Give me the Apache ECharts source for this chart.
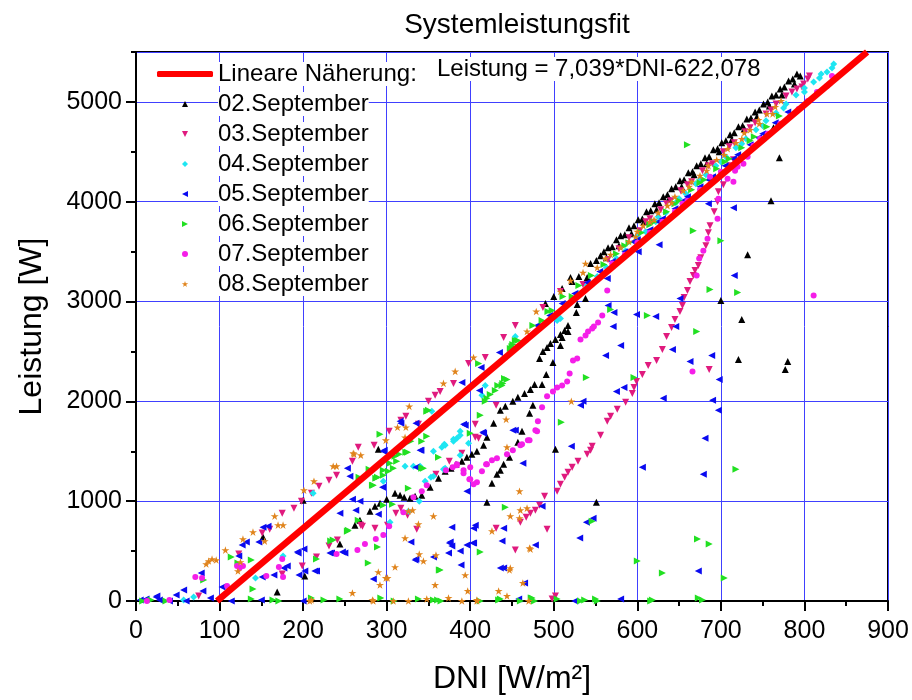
<!DOCTYPE html>
<html><head><meta charset="utf-8">
<script src="https://cdn.jsdelivr.net/npm/echarts@6/dist/echarts.min.js"></script>
<style>html,body{margin:0;padding:0;background:#fff}#c{width:912px;height:700px}</style>
</head><body><div id="c"></div>
<script>
const chartTitle = 'Systemleistungsfit';
const xName = 'DNI [W/m²]';
const yName = 'Leistung [W]';
const fitName = 'Lineare Näherung:';
const fitText = 'Leistung = 7,039*DNI-622,078';
const xTicks = [0, 900, 100];
const yTicks = [0, 5500, 1000];
// fit line endpoints
const fitDNI = [97, 875];
const fitW = [0, 5500];
const seriesNames = ['02.September','03.September','04.September','05.September','06.September','07.September','08.September'];
const seriesColors = ['#000000','#E01A7E','#1EE6F2','#0A0AF0','#22E022','#F51EE8','#E0841C'];

const sep02 = [
[169,90],[152,640],[200,1010],[202,250],[290,1520],
[244,570],[262,760],[268,810],[280,900],[286,950],[292,980],[300,1020],[310,1080],[316,1060],[321,1040],[328,1030],[334,1050],[342,1060],[352,1140],[362,1230],[370,1300],[377,1330],[383,1370],[390,1400],[396,1440],[402,1470],[408,1500],[416,1560],[420,1640],[428,1780],[436,1910],[442,1950],[451,2000],[457,2040],[465,2080],[472,2120],[477,2170],[483,2430],[487,2500],[492,2540],[496,2580],[502,2620],[508,2670],[513,2710],[517,2760],
[420,990],[426,1180],[432,1270],[436,1310],[440,1370],[447,1440],[457,1590],[462,1700],[471,1880],[475,1960],[486,2170],[491,2270],[499,2390],[508,2560],[510,2640],[517,2700],[527,2890],[528,2970],[538,3030],[520,3240],[540,3240],[544,3380],[551,3410],[556,3460],
[490,2980],[500,3050],[510,3130],[522,3200],[530,3250],
[560,3500],[565,3540],[570,3550],[575,3620],[580,3660],[585,3670],[590,3740],[596,3760],[601,3820],[606,3830],[611,3900],[616,3910],[621,3980],[626,3990],[631,4050],[636,4070],[641,4130],[646,4150],[651,4210],[656,4220],[661,4290],[666,4300],[671,4360],[676,4380],[681,4440],[686,4450],[691,4520],[696,4530],[701,4590],[706,4610],[711,4670],[716,4690],[721,4750],[726,4760],[731,4830],[736,4840],[741,4900],[746,4920],[751,4980],[756,5000],[761,5060],[766,5070],[771,5130],[776,5150],[781,5210],[786,5230],[791,5280],[795,5260],
[563,3440],[578,3560],[593,3680],[608,3800],[623,3920],[638,4030],[653,4150],[668,4270],[683,4380],[698,4500],[713,4620],[728,4730],[743,4850],[758,4960],[773,5070],[788,5180],
[732,3470],[700,3010],[725,2820],[721,2420],[780,2400],[777,2320],[763,4740],[770,4440],[760,4010],[502,1520],[551,990]
];
const sep03 = [
[75,50],[123,470],[151,680],[160,720],[175,880],[189,930],[198,1000],[210,1080],[219,1150],[231,1210],[240,1260],[259,1400],[266,1540],[285,1560],[303,1700],[323,1850],[338,1770],[350,2000],[175,270],[199,350],[216,440],[231,550],[241,610],[269,760],[286,730],[301,760],[311,880],[325,860],[336,720],[317,1810],[358,2060],[364,2100],[380,2180],[398,2380],[418,2440],[440,2640],[454,2760],[359,1270],[375,1400],[390,1480],[406,1640],[406,1770],[410,1630],[431,1960],[271,750],[317,930],
[454,510],[460,790],[467,840],[472,880],[478,910],[483,960],[489,1050],[492,720],[498,20],[502,50],[431,730],
[504,1100],[508,1170],[513,1240],[517,1290],[522,1340],[529,1400],[540,1470],[544,1510],[546,1550],[556,1660],[564,1800],[568,1850],[576,1920],[586,1990],[594,2080],[596,2140],[599,2200],[606,2270],[613,2360],[623,2410],[630,2520],[635,2650],[641,2740],[645,2820],[651,2900],[654,2960],[656,3040],[660,3110],[663,3200],[667,3260],[669,3310],[673,3360],[676,3440],[682,3560],[685,3690],[687,3760],[692,3900],[696,4000],[697,4100],[703,4170],[711,4360],[715,4420],
[686,2320],[487,2940],[508,3100],[535,3170],
[565,3420],[578,3530],[590,3640],[603,3710],[615,3830],[628,3920],[640,4010],[652,4110],[665,4200],[678,4310],[690,4380],[703,4500],[716,4590],[729,4700],[741,4790],[754,4880],[766,4980],[778,5060],[791,5130],[797,5150],[799,5180],[804,5230],[806,5260],
[610,3800],[635,3980],[660,4170],[685,4360],[710,4550],[735,4740],[760,4920],[785,5100]
];
const sep04 = [
[57,10],[69,40],[143,230],[176,450],[212,1080],
[296,1200],[304,790],[326,900],[339,1000],[346,1200],[353,1240],[368,1320],[356,1500],[366,1540],[370,1560],[380,1600],[384,1630],[388,1660],[388,1460],[398,1580],[322,1350],[332,1350],[340,1350],[354,1900],[369,1570],[380,1620],[388,1700],[370,1330],[356,1250],[414,2060],[418,2160],[450,2530],[454,2650],[504,2810],[508,2830],[511,2930],
[520,2990],[530,3080],[540,3160],[552,3250],[563,3340],[575,3430],[586,3510],[598,3600],[610,3700],[622,3800],[634,3890],[646,3990],[658,4080],[670,4180],[682,4270],[694,4360],[706,4450],[718,4540],[730,4630],[742,4720],[754,4810],[766,4890],[778,4980],[790,5070],[800,5140],[811,5200],[818,5240],[827,5300],[833,5340],[835,5380],
[600,3660],[625,3850],[650,4030],[675,4220],[700,4400],[725,4580],[750,4760],[775,4940],[800,5100],[820,5280]
];
const sep05 = [
[24,40],[28,10],[25,50],[5,10],[48,60],[57,110],[78,280],[80,100],[89,30],[103,140],[114,0],[123,450],[127,560],[132,590],[147,590],[152,740],[158,750],[165,260],[177,330],[195,260],[201,520],[194,480],[216,300],[234,480],[200,0],[151,240],[181,350],[193,490],[202,300],[214,300],[232,480],[247,490],[12,20],[40,0],[60,0],
[253,1330],[256,1250],[244,880],[263,910],[268,1000],[290,870],[295,1140],[297,1510],[316,1800],[335,1780],[340,1510],[334,410],[390,2190],[413,2340],[435,2490],[317,1780],[394,1760],[415,1690],[454,1710],[259,1020],[296,1500],[250,480],[284,220],[335,420],[329,590],[341,1510],[335,1340],[378,740],[375,580],[378,550],[374,480],[388,500],[396,560],[404,580],[406,760],[396,1100],[389,360],[416,1680],[440,730],[440,330],[463,1380],[478,560],[465,180],[451,1710],[411,2110],[392,1770],[404,730],[403,580],[376,590],[356,440],[438,600],[436,330],[486,950],[521,1550],[532,1960],[535,2000],[539,790],[547,830],[531,630],[575,2100],[584,2140],[606,1340],[631,2030],[679,1270],[673,300],[681,1630],[690,2010],[697,1910],
[565,2960],[572,2890],[571,2750],[580,2560],[562,2460],[599,2870],[622,2850],[646,2750],[642,2520],[663,2400],[689,2460],[651,3030],[716,3260],[698,2220],[715,3940],[685,3980],[626,3570],[564,3230],[601,3500],
[525,0],[580,20],[458,20],[150,10],
[480,2760],[495,2860],[510,2980],[525,3080],[540,3190],[555,3300],[570,3400],[585,3500],[600,3620],[615,3720],[630,3830],[645,3930],[660,4050],[675,4150],[690,4250],[705,4360],[720,4470],[735,4570],[750,4680],[765,4790],[780,4900],
[595,3600],[625,3800],[655,4010],[685,4220],[715,4430],[745,4640]
];
const sep06 = [
[8,0],[18,10],[36,0],[138,20],[164,10],[171,0],[210,30],[225,10],[244,20],[293,30],[309,0],[338,20],[356,10],[361,10],[365,0],[412,0],[434,10],[436,20],[460,0],[473,30],[477,0],[504,20],[532,0],[537,10],[550,20],[552,0],[616,0],[618,10],[673,30],[678,10],
[81,210],[114,440],[138,410],[140,120],[122,380],[216,420],[233,600],[253,700],[236,610],[254,710],[266,810],[289,540],[278,380],[296,960],[307,970],[364,310],[474,30],[412,490],[363,310],[442,940],
[267,1240],[279,1320],[287,1230],[283,1160],[296,1310],[304,1380],[310,1450],[315,1470],[325,1490],[329,1600],[342,1600],[348,1650],[350,1910],[342,1330],[326,1130],[292,1670],[323,1490],[312,1400],[308,1330],[302,1300],[296,1260],[289,1240],[284,1160],[344,1330],[362,1440],[400,1680],[412,1860],[418,2000],[420,2030],[424,2070],[430,2110],[433,2160],[438,2160],[441,2230],[410,2380],[448,2530],[451,2570],[457,2610],[450,2550],[454,2610],[475,2760],[486,2810],[493,2900],[498,2910],[511,3050],[522,3050],[444,2220],[439,2180],[348,1900],
[539,2240],[509,1790],[596,2240],[612,2860],[671,2700],[568,2920],[687,3120],[720,3090],[718,1320],[660,4570],[667,3710],[700,3610],[546,800],[600,400],[630,280],[672,620],[686,570],[704,230],
[530,3160],[545,3260],[560,3370],[575,3480],[590,3590],[605,3690],[620,3800],[635,3900],[650,4010],[665,4120],[680,4220],[695,4330],[710,4430],[725,4540],[740,4650],[755,4750],[770,4860],
[585,3560],[615,3770],[645,3980],[675,4190],[705,4400],[735,4610]
];
const sep07 = [
[40,10],[71,240],[79,230],[109,150],[121,350],[128,350],[124,330],[175,420],[171,340],[176,240],[156,250],[240,470],[13,0],
[265,510],[274,570],[287,620],[296,660],[303,750],[320,890],[332,1040],[342,1100],[348,1160],[371,1310],[379,1340],[384,1370],[392,1310],[400,1220],[404,1170],[408,1190],[414,1300],[420,1370],[426,1410],[432,1430],[444,1470],[451,1510],[462,1570],[471,1610],[480,1700],[399,1220],[392,1280],[400,1340],[384,1360],[419,1370],[460,1560],[469,1610],[478,1710],[481,1800],[486,1940],[492,2050],[499,2100],[504,2140],[510,2160],[516,2200],[519,2280],[523,2410],[528,2430],[532,2620],[538,2660],[541,2700],[546,2730],[548,2750],[553,2790],[558,2860],[564,3110],
[666,2300],[811,3060],[671,3260],[674,3430],[679,3510],[684,3630],[696,3830],[697,4030],[708,4230],[715,4200],[717,4310],[720,4350],[727,4380],[732,4450],[739,4560],[747,4630],[756,4680],[771,4780],[783,4860],[793,4930],[804,5010],[815,5100],[827,5160],[833,5260],
[570,3380],[585,3470],[600,3590],[615,3690],[630,3800],[645,3900],[654,3980],[660,4010],[675,4120],[687,4250],[700,4300]
];
const sep08 = [
[84,370],[87,400],[91,420],[96,410],[107,510],[122,300],[125,390],[128,620],[140,690],[154,600],[166,850],[170,760],[176,760],[201,1110],[213,1200],[236,1350],[240,1350],[261,1470],[269,1460],[299,1610],[313,1740],[323,1740],[327,1950],[322,1640],[368,2180],[404,2440],[382,2300],[260,1480],
[208,0],[210,10],[290,290],[299,230],[259,80],[348,20],[326,900],[338,770],[344,400],[339,470],[322,630],[310,340],[356,850],[331,910],[459,1100],[448,850],[459,830],[468,930],[471,530],[448,330],[463,180],[434,100],[444,50],[394,260],[397,100],[358,160],[292,160],[301,230],[283,10],[308,0],[326,0],[374,30],[408,0],[359,460],[408,10],[443,1820],[444,1540],[460,910],[472,520],[447,310],[426,700],[284,0],[390,0],[470,0],
[521,2000],[468,2700],[479,2900],[508,3100],[520,3210],[535,3290],[538,3380],[552,3340],[562,3430],[568,3470],
[580,3540],[590,3600],[600,3700],[607,3760],[615,3800],[625,3890],[636,3960],[645,4050],[655,4110],[665,4200],[675,4260],[685,4360],[695,4420],[708,4530],[718,4590],[728,4690],[735,4720],[745,4820],[755,4880],[765,4950],[772,5010],
[598,3650],[620,3820],[641,3990],[662,4150],[683,4310],[704,4470],[725,4630],[746,4780],[762,4880]
];
const seriesData = [sep02, sep03, sep04, sep05, sep06, sep07, sep08];

const FONT = '"Liberation Sans", Arial, sans-serif';
const SYM = {
  up: 'path://M0,10 L5,0 L10,10 Z',
  down: 'path://M0,0 L10,0 L5,10 Z',
  left: 'path://M10,0 L10,10 L0,5 Z',
  right: 'path://M0,0 L0,10 L10,5 Z',
  diamond: 'path://M5,0 L10,5 L5,10 L0,5 Z',
  circle: 'circle',
  star: 'path://M5,0 L6.2,3.6 L10,3.6 L6.9,5.8 L8.1,9.5 L5,7.2 L1.9,9.5 L3.1,5.8 L0,3.6 L3.8,3.6 Z'
};
const seriesSymbols = [SYM.up, SYM.down, SYM.diamond, SYM.left, SYM.right, SYM.circle, SYM.star];
const seriesSizes = [7, 7, 7, 7, 7, 6, 8];

const chart = echarts.init(document.getElementById('c'), null, {renderer: 'canvas'});

const series = seriesNames.map((n, i) => ({
  name: n, type: 'scatter', data: seriesData[i],
  symbol: seriesSymbols[i], symbolSize: seriesSizes[i], symbolKeepAspect: true,
  itemStyle: {color: seriesColors[i], opacity: 1},
  emphasis: {disabled: true}, z: 2
}));
series.push({
  name: fitName, type: 'line',
  data: [[fitDNI[0], fitW[0]], [fitDNI[1], fitW[1]]],
  showSymbol: false, symbol: 'none',
  lineStyle: {color: '#FF0000', width: 6.5},
  itemStyle: {color: '#FF0000'}, z: 3, emphasis: {disabled: true}
});

const plain = v => String(v);
const axisCommon = {
  type: 'value',
  axisLine: {show: true, onZero: false, lineStyle: {color: '#000', width: 2}},
  axisTick: {show: true, inside: false, length: 10, lineStyle: {color: '#000', width: 2}},
  splitLine: {show: true, lineStyle: {color: '#4040FF', width: 1}},
  axisLabel: {color: '#000', fontSize: 25, fontFamily: FONT, formatter: plain},
  nameTextStyle: {color: '#000', fontSize: 32, fontFamily: FONT},
  nameLocation: 'middle'
};

chart.setOption({
  animation: false,
  backgroundColor: '#fff',
  title: {text: chartTitle, left: 512, top: 6, textAlign: 'center',
    textStyle: {fontSize: 28, fontWeight: 'normal', color: '#000', fontFamily: FONT}},
  grid: {left: 136, right: 24, top: 52, bottom: 97, show: true, borderColor: '#000', borderWidth: 2, backgroundColor: 'transparent'},
  legend: {
    orient: 'vertical', left: 152, top: 57, itemWidth: 56, itemHeight: 6, itemGap: 6,
    symbolKeepAspect: true, selectedMode: false,
    textStyle: {fontSize: 24, lineHeight: 24, color: '#000', fontFamily: FONT, backgroundColor: '#fff'},
    data: [{name: fitName, icon: 'roundRect'}].concat(seriesNames.map((n, i) => ({name: n, icon: seriesSymbols[i]})))
  },
  xAxis: Object.assign({}, axisCommon, {
    min: xTicks[0], max: xTicks[1], interval: xTicks[2],
    minorTick: {show: true, splitNumber: 2, length: 5, lineStyle: {color: '#000', width: 2}},
    axisLabel: Object.assign({}, axisCommon.axisLabel, {margin: 18}),
    name: xName, nameGap: 62
  }),
  yAxis: [
    Object.assign({}, axisCommon, {
      min: yTicks[0], max: yTicks[1], interval: yTicks[2],
      axisLabel: Object.assign({}, axisCommon.axisLabel, {margin: 14, showMaxLabel: false}),
      name: yName, nameGap: 88
    }),
    {
      type: 'value', position: 'left', min: yTicks[0], max: yTicks[1], interval: yTicks[2] / 2,
      axisLine: {show: false}, splitLine: {show: false}, axisLabel: {show: false},
      axisTick: {show: true, inside: false, length: 5, lineStyle: {color: '#000', width: 2}}
    }
  ],
  graphic: [{
    type: 'text', left: 437, top: 57, z: 100,
    style: {text: fitText, fill: '#000', font: '24px ' + FONT, backgroundColor: '#fff', lineHeight: 24}
  }],
  series: series
});
</script></body></html>
